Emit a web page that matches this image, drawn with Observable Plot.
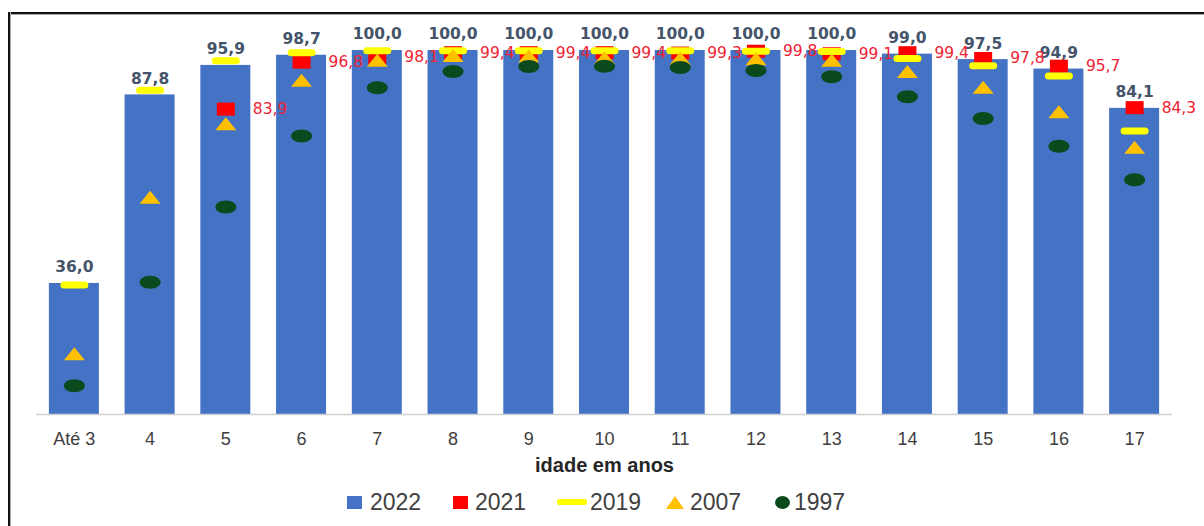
<!DOCTYPE html>
<html>
<head>
<meta charset="utf-8">
<script src="https://cdn.jsdelivr.net/npm/d3@7"></script>
<script src="https://cdn.jsdelivr.net/npm/@observablehq/plot@0.6"></script>
<style>
  html, body { margin: 0; padding: 0; background: #fff; }
  #wrap { position: relative; width: 1204px; height: 526px; overflow: hidden; background: #fff; font-family: "Liberation Sans", Arial, sans-serif; }
  #chart { position: absolute; left: 0; top: 0; }
  .bt { position: absolute; left: 8px; top: 12px; width: 1196px; height: 2px; background: #111; box-shadow: 0 1px 0 #aaa; }
  .bl { position: absolute; left: 8px; top: 12px; width: 2px; height: 514px; background: #111; box-shadow: 1px 0 0 #aaa; }
  .lg { position: absolute; top: 489px; height: 26px; display: flex; align-items: center; font-size: 23px; color: #404040; }
  .lg svg { display: block; }
</style>
</head>
<body>
<div id="wrap">
  <div id="chart"></div>
  <div class="bt"></div>
  <div class="bl"></div>
  <div id="legend"></div>
</div>
<script>
// ---- data ----
const categories = ["Até 3", "4", "5", "6", "7", "8", "9", "10", "11", "12", "13", "14", "15", "16", "17"];
const v2022 = [36.0, 87.8, 95.9, 98.7, 100.0, 100.0, 100.0, 100.0, 100.0, 100.0, 100.0, 99.0, 97.5, 94.9, 84.1];
const v2021 = [null, null, 83.9, 96.8, 98.1, 99.4, 99.4, 99.4, 99.3, 99.8, 99.1, 99.4, 97.8, 95.7, 84.3];
const v2019 = [35.6, 89.1, 97.2, 99.4, 99.9, 99.9, 99.9, 99.9, 99.9, 99.8, 99.7, 97.8, 95.8, 93.0, 77.9];
const v2007 = [16.7, 59.7, 79.9, 91.8, 97.3, 98.6, 98.5, 98.0, 97.9, 97.7, 97.3, 94.2, 89.9, 83.2, 73.4];
const v1997 = [7.9, 36.3, 57.0, 76.5, 89.8, 94.2, 95.6, 95.7, 95.3, 94.5, 92.8, 87.3, 81.3, 73.7, 64.5];
const seriesNames = ["2022", "2021", "2019", "2007", "1997"];
const seriesColors = ["#4472C4", "#FF0000", "#FFFF00", "#FFC000", "#0B4A1C"];
const axisTitle = "idade em anos";

const fmt = v => v.toFixed(1).replace(".", ",");

// custom marker shapes (fixed pixel size)
const squareSym = { draw(c) { c.rect(-9, -6.5, 18, 13); } };
const dashSym = { draw(c) {
  c.moveTo(-10.5, -3.5); c.lineTo(10.5, -3.5);
  c.arc(10.5, 0, 3.5, -Math.PI / 2, Math.PI / 2);
  c.lineTo(-10.5, 3.5);
  c.arc(-10.5, 0, 3.5, Math.PI / 2, 3 * Math.PI / 2);
  c.closePath();
} };
const triSym = { draw(c) { c.moveTo(0, -6.5); c.lineTo(10.5, 6.5); c.lineTo(-10.5, 6.5); c.closePath(); } };
const ellSym = { draw(c) {
  const rx = 10.5, ry = 6.5, k = 0.5523;
  c.moveTo(rx, 0);
  c.bezierCurveTo(rx, ry * k, rx * k, ry, 0, ry);
  c.bezierCurveTo(-rx * k, ry, -rx, ry * k, -rx, 0);
  c.bezierCurveTo(-rx, -ry * k, -rx * k, -ry, 0, -ry);
  c.bezierCurveTo(rx * k, -ry, rx, -ry * k, rx, 0);
  c.closePath();
} };

const idx = categories.map((_, i) => i);
const val = arr => idx.filter(i => arr[i] != null);

const plot = Plot.plot({
  width: 1204,
  height: 480,
  marginTop: 50,
  marginBottom: 66,
  marginLeft: 36,
  marginRight: 32,
  style: { background: "transparent", fontFamily: "Liberation Sans, Arial, sans-serif", overflow: "visible" },
  x: { domain: categories, paddingInner: 0.34, paddingOuter: 0.17, round: false, axis: null },
  y: { domain: [0, 100], axis: null },
  marks: [
    Plot.barY(idx, { x: i => categories[i], y: i => v2022[i], fill: seriesColors[0] }),
    Plot.ruleY([0], { stroke: "#D0D0D0", strokeWidth: 1.5, dx: 0 }),
    Plot.text(idx, { x: i => categories[i], y: i => v2022[i], text: i => fmt(v2022[i]), dy: -16, lineAnchor: "middle",
      fill: "#44546A", fontWeight: "bold", fontSize: 15.5, fontFamily: "DejaVu Sans" }),
    Plot.dot(val(v2021), { x: i => categories[i], y: i => v2021[i], symbol: squareSym, fill: seriesColors[1], stroke: "none" }),
    Plot.dot(val(v2019), { x: i => categories[i], y: i => v2019[i], symbol: dashSym, fill: seriesColors[2], stroke: "none" }),
    Plot.dot(val(v2007), { x: i => categories[i], y: i => v2007[i], symbol: triSym, fill: seriesColors[3], stroke: "none" }),
    Plot.dot(val(v1997), { x: i => categories[i], y: i => v1997[i], symbol: ellSym, fill: seriesColors[4], stroke: "none" }),
    Plot.text(val(v2021), { x: i => categories[i], y: i => v2021[i], text: i => fmt(v2021[i]), dx: 27, textAnchor: "start", lineAnchor: "middle",
      fill: "#EE2233", fontSize: 15.5, fontFamily: "DejaVu Sans" }),
    Plot.axisX({ tickSize: 0, tickPadding: 18, fontSize: 18, fill: "#404040", label: null }),
    Plot.text([axisTitle], { frameAnchor: "bottom", dy: 51, lineAnchor: "middle", fontWeight: "bold", fontSize: 20, fill: "#262626" })
  ]
});
document.getElementById("chart").appendChild(plot);

// legend
const legendLayout = [
  { sw: 347, tx: 370 }, { sw: 453, tx: 475 }, { sw: 557, tx: 590 }, { sw: 666, tx: 690 }, { sw: 775, tx: 794 }
];
const swatch = [
  `<svg width="15" height="14"><rect x="0" y="1" width="15" height="13" fill="${seriesColors[0]}"/></svg>`,
  `<svg width="15" height="14"><rect x="0" y="1" width="15" height="13" fill="${seriesColors[1]}"/></svg>`,
  `<svg width="30" height="8"><rect x="0" y="1" width="30" height="6" rx="2" fill="${seriesColors[2]}"/></svg>`,
  `<svg width="18" height="14"><path d="M9,1L18,14L0,14Z" fill="${seriesColors[3]}"/></svg>`,
  `<svg width="15" height="14"><ellipse cx="7.5" cy="7.5" rx="7.5" ry="6.5" fill="${seriesColors[4]}"/></svg>`
];
const lg = document.getElementById("legend");
seriesNames.forEach((name, i) => {
  const s = document.createElement("div");
  s.className = "lg"; s.style.left = legendLayout[i].sw + "px";
  s.innerHTML = swatch[i];
  lg.appendChild(s);
  const t = document.createElement("div");
  t.className = "lg"; t.style.left = legendLayout[i].tx + "px";
  t.textContent = name;
  lg.appendChild(t);
});
</script>
</body>
</html>
